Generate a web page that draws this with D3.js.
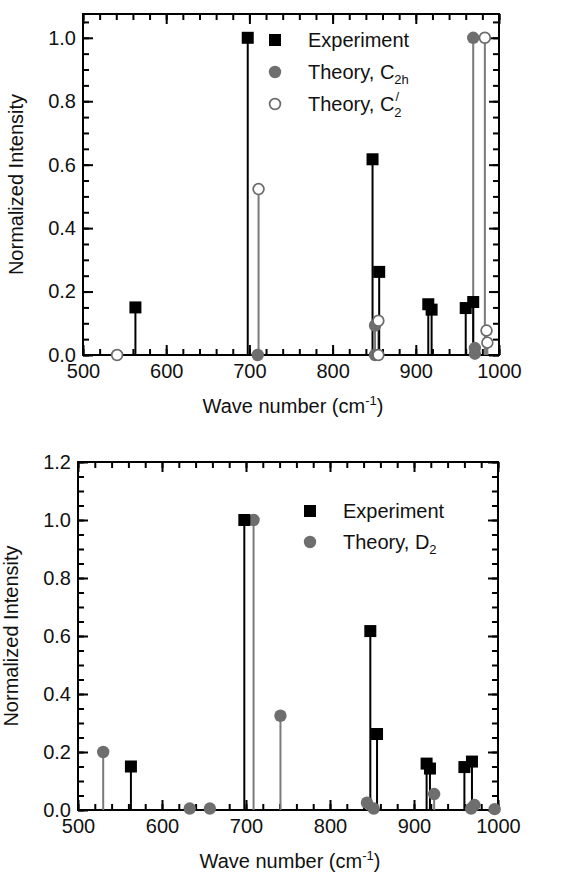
<!DOCTYPE html>
<html><head><meta charset="utf-8">
<script src="https://cdn.jsdelivr.net/npm/d3@7"></script>
<style>body{margin:0;background:#fff}svg text{font-family:"Liberation Sans",Arial,sans-serif;fill:#111}</style>
</head><body><svg id="c" width="561" height="875"></svg>
<script>
// ---- data ----
const xTicks = [500, 600, 700, 800, 900, 1000];
const yTicksTop = [0.0, 0.2, 0.4, 0.6, 0.8, 1.0];
const yTicksBottom = [0.0, 0.2, 0.4, 0.6, 0.8, 1.0, 1.2];
const experimentX = [563, 698, 848, 856, 915, 919, 960, 969];
const experimentY = [0.15, 1.0, 0.617, 0.262, 0.16, 0.143, 0.148, 0.167];
const c2hX = [710, 851, 851, 969, 971, 971];
const c2hY = [0.0, 0.093, 0.0, 1.0, 0.022, 0.004];
const c2pX = [541, 711, 855, 855, 983, 985, 986];
const c2pY = [0.0, 0.523, 0.108, 0.0, 1.0, 0.077, 0.039];
const d2X = [530, 633, 657, 709, 741, 844, 852, 924, 968, 972, 996];
const d2Y = [0.2, 0.005, 0.005, 1.0, 0.325, 0.025, 0.005, 0.055, 0.005, 0.017, 0.003];

const svg = d3.select("#c");
const zip = (xs, ys) => xs.map((x, i) => ({x, y: ys[i]}));
const FS = 20;

function panel(cfg) {
  const {left, right, top, bottom, yMax, yTicks, series, legend} = cfg;
  const g = svg.append("g");
  const x = d3.scaleLinear().domain([500, 1000]).range([left, right]);
  const y = d3.scaleLinear().domain([0, yMax]).range([bottom, top]);
  const fmt = d3.format(".1f");
  const minorX = d3.range(500, 1001, 20);
  const minorY = d3.range(0, yMax + 1e-9, 0.05);
  const addAxis = (axis, tr) => {
    const a = g.append("g").attr("transform", tr).call(axis);
    a.select(".domain").remove();
    a.selectAll(".tick line").attr("stroke", "#000").attr("stroke-width", 2);
    return a;
  };
  addAxis(d3.axisBottom(x).tickValues(minorX).tickSize(-6).tickFormat(""), `translate(0,${bottom})`);
  const bX = addAxis(d3.axisBottom(x).tickValues(xTicks).tickSize(-10).tickPadding(9).tickFormat(d3.format("d")), `translate(0,${bottom})`);
  bX.selectAll("text").attr("font-size", FS).attr("dy", "0.72em");
  addAxis(d3.axisTop(x).tickValues(minorX).tickSize(-6).tickFormat(""), `translate(0,${top})`);
  addAxis(d3.axisTop(x).tickValues(xTicks).tickSize(-10).tickFormat(""), `translate(0,${top})`);
  addAxis(d3.axisLeft(y).tickValues(minorY).tickSize(-6).tickFormat(""), `translate(${left},0)`);
  const lY = addAxis(d3.axisLeft(y).tickValues(yTicks).tickSize(-10).tickPadding(7).tickFormat(fmt), `translate(${left},0)`);
  lY.selectAll("text").attr("font-size", FS);
  addAxis(d3.axisRight(y).tickValues(minorY).tickSize(-6).tickFormat(""), `translate(${right},0)`);
  addAxis(d3.axisRight(y).tickValues(yTicks).tickSize(-10).tickFormat(""), `translate(${right},0)`);
  g.selectAll("text").attr("fill", "#111").style("font-family", "Liberation Sans, Arial");
  g.append("rect").attr("x", left).attr("y", top).attr("width", right - left).attr("height", bottom - top)
    .attr("fill", "none").attr("stroke", "#000").attr("stroke-width", 2);
  series.forEach(s => {
    g.append("g").selectAll("line").data(s.data).join("line")
      .attr("x1", d => x(d.x)).attr("x2", d => x(d.x))
      .attr("y1", y(0)).attr("y2", d => y(d.y))
      .attr("stroke", s.stem).attr("stroke-width", 2);
  });
  const marker = (sel, s) => {
    if (s.shape === "square") {
      sel.append("rect").attr("x", -6).attr("y", -6).attr("width", 12).attr("height", 12).attr("fill", s.fill);
    } else {
      sel.append("circle").attr("r", s.open ? 5.4 : 6.2)
        .attr("fill", s.fill).attr("stroke", s.open ? s.stroke : "none").attr("stroke-width", 1.7);
    }
  };
  series.forEach(s => {
    g.append("g").selectAll("g").data(s.data).join("g")
      .attr("transform", d => `translate(${x(d.x)},${y(d.y)})`)
      .each(function () { marker(d3.select(this), s); });
  });
  g.append("text").attr("x", (left + right) / 2 + 2).attr("y", bottom + 58).attr("text-anchor", "middle")
    .attr("font-size", FS).attr("fill", "#111")
    .html('Wave number (cm<tspan dy="-8" font-size="13">-1</tspan><tspan dy="8">)</tspan>');
  g.append("text").attr("transform", `translate(${left - 60},${(top + bottom) / 2}) rotate(-90)`)
    .attr("text-anchor", "middle").attr("font-size", FS).attr("fill", "#111").text("Normalized Intensity");
  legend.items.forEach((it, i) => {
    const ly = legend.y + i * legend.dy;
    const mg = g.append("g").attr("transform", `translate(${legend.x},${ly})`);
    marker(mg, it.series);
    g.append("text").attr("x", legend.x + 33).attr("y", ly + 7).attr("font-size", FS).attr("fill", "#111").html(it.label);
  });
}

const expS = {data: zip(experimentX, experimentY), shape: "square", fill: "#000", stem: "#000"};
const c2hS = {data: zip(c2hX, c2hY), shape: "circle", fill: "#6e6e6e", stem: "#7a7a7a"};
const c2pS = {data: zip(c2pX, c2pY), shape: "circle", open: true, fill: "#fff", stroke: "#6a6a6a", stem: "#7a7a7a"};
const d2S = {data: zip(d2X, d2Y), shape: "circle", fill: "#6e6e6e", stem: "#7a7a7a"};

panel({left: 83, right: 499, top: 14, bottom: 355, yMax: 1.075, yTicks: yTicksTop,
  series: [c2hS, c2pS, expS],
  legend: {x: 275, y: 40, dy: 32, items: [
    {series: expS, label: "Experiment"},
    {series: c2hS, label: 'Theory, C<tspan dy="5" font-size="13">2h</tspan>'},
    {series: c2pS, label: 'Theory, C<tspan dy="6" font-size="13">2</tspan><tspan dx="-6" dy="-16" font-size="13">/</tspan>'}
  ]}});

panel({left: 78, right: 498, top: 462, bottom: 810, yMax: 1.2, yTicks: yTicksBottom,
  series: [d2S, expS],
  legend: {x: 310, y: 511, dy: 31, items: [
    {series: expS, label: "Experiment"},
    {series: d2S, label: 'Theory, D<tspan dy="5" font-size="13">2</tspan>'}
  ]}});
</script></body></html>
